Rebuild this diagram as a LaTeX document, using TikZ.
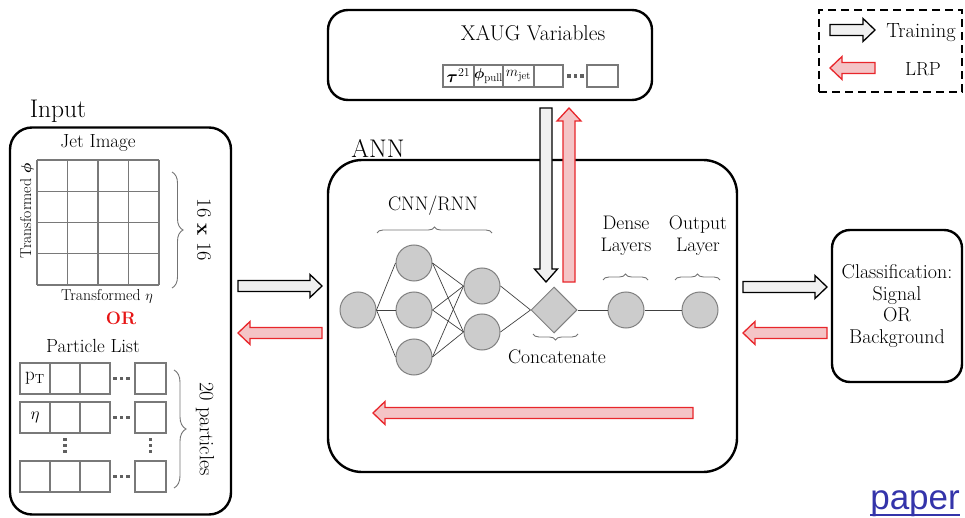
\documentclass[tikz,border=0pt]{standalone}
\usepackage{amsmath}
\usepackage{fontspec}
\newfontfamily\linkfont{Liberation Sans}
\usetikzlibrary{decorations.pathreplacing,shapes.geometric,calc}
\definecolor{lrpfill}{RGB}{244,196,198}
\definecolor{lrpline}{RGB}{232,38,43}
\definecolor{trfill}{RGB}{240,240,240}
\definecolor{linkblue}{RGB}{52,52,170}
\definecolor{orred}{RGB}{230,20,20}
\newcommand\blkR[4]{\draw[#1] (#2,#4-5.5) -- (#3-12,#4-5.5) -- (#3-12,#4-11.5) -- (#3,#4) -- (#3-12,#4+11.5) -- (#3-12,#4+5.5) -- (#2,#4+5.5) -- cycle;}
\newcommand\blkL[4]{\draw[#1] (#2,#4-5.5) -- (#3+12,#4-5.5) -- (#3+12,#4-11.5) -- (#3,#4) -- (#3+12,#4+11.5) -- (#3+12,#4+5.5) -- (#2,#4+5.5) -- cycle;}
\newcommand\blkD[4]{\draw[#1] (#2-6,#3) -- (#2-6,#4-13) -- (#2-11.5,#4-13) -- (#2,#4) -- (#2+11.5,#4-13) -- (#2+6,#4-13) -- (#2+6,#3) -- cycle;}
\newcommand\blkU[4]{\draw[#1] (#2-6,#3) -- (#2-6,#4+13) -- (#2-12,#4+13) -- (#2,#4) -- (#2+12,#4+13) -- (#2+6,#4+13) -- (#2+6,#3) -- cycle;}
\begin{document}
\begin{tikzpicture}[x=1pt,y=-1pt,
  box/.style={draw=black, line width=2.4pt, rounded corners=#1, inner sep=0pt},
  legendbox/.style={draw=black, line width=2.4pt, dash pattern=on 8pt off 5pt, inner sep=0pt},
  lbl/.style={font=\fontsize{19.6}{22}\selectfont, align=center, inner sep=0pt},
  biglbl/.style={font=\fontsize{25.5}{27}\selectfont, inner sep=0pt},
  smalllbl/.style={font=\fontsize{15.75}{17}\selectfont, inner sep=0pt},
  cellline/.style={draw=gray!95!black, line width=1.1pt},
  cellbox/.style={draw=gray!95!black, line width=1.1pt, fill=white},
  neuron/.style={circle, fill=gray!40, draw=gray, line width=1pt, minimum size=36pt, inner sep=0pt},
  concat/.style={diamond, fill=gray!40, draw=gray, line width=1pt, minimum size=46pt, inner sep=0pt},
  conn/.style={draw=black!75, line width=0.7pt},
  curly/.style={decorate, decoration={brace, amplitude=#1}, draw=gray!90!black, line width=0.9pt},
  trarrow/.style={fill=trfill, draw=black, line width=1.3pt, line join=miter},
  lrparrow/.style={fill=lrpfill, draw=lrpline, line width=1.3pt, line join=miter},
  dots/.style={fill=gray!75!black}
]
\useasboundingbox (0,0) rectangle (965,518);

% ---------- boxes ----------
\node[box=22pt, minimum width=221pt, minimum height=387pt] (input) at (120.5,321) {};
\node[box=34pt, minimum width=409pt, minimum height=312pt] (ann) at (532.5,316) {};
\node[box=20pt, minimum width=324pt, minimum height=90pt] (xaug) at (490,55) {};
\node[box=18pt, minimum width=130pt, minimum height=152pt] (cls) at (897,306) {};
\node[legendbox, minimum width=143pt, minimum height=82pt] (legend) at (890.5,51) {};

% ---------- titles ----------
\node[biglbl] (inputlbl) at (58,111) {Input};
\node[biglbl] (annlbl) at (378,148) {ANN};
\node[lbl, font=\fontsize{21.4}{23}\selectfont] (xauglbl) at (533,33) {XAUG Variables};

% ---------- Jet image ----------
\node[lbl, font=\fontsize{19}{21}\selectfont] (jetlbl) at (98,143) {Jet Image};
\foreach \i in {0,...,4} {
  \draw[cellline] (37+30.5*\i,160) -- (37+30.5*\i,285);
  \draw[cellline] (37,160+31.25*\i) -- (159,160+31.25*\i);
}
\coordinate (jbt) at (172,172);
\coordinate (jbb) at (172,288);
\draw[curly=11pt] (jbt) -- (jbb);
\node[lbl, rotate=-90, font=\fontsize{20.5}{22}\selectfont] (sixteen) at (204,230) {16 \textbf{x} 16};
\node[smalllbl, rotate=90] (tphi) at (27,211) {Transformed $\boldsymbol{\phi}$};
\node[smalllbl] (teta) at (107,296) {Transformed $\eta$};
\node[lbl, text=orred, font=\bfseries\fontsize{18}{20}\selectfont] (orlbl) at (121,318) {OR};

% ---------- Particle list ----------
\node[lbl, font=\fontsize{19}{21}\selectfont] (plist) at (93,346) {Particle List};
\foreach \y in {363,402,461} {
  \draw[cellbox] (20,\y) rectangle (50,\y+31);
  \draw[cellbox] (50,\y) rectangle (80,\y+31);
  \draw[cellbox] (80,\y) rectangle (110,\y+31);
  \draw[cellbox] (135,\y) rectangle (166,\y+31);
  \foreach \dx in {115,121.5,128} {
    \fill[dots] (\dx-1.6,\y+15.5-1.6) rectangle (\dx+1.6,\y+15.5+1.6);
  }
}
\foreach \dy in {439.5,445.5,451.5} {
  \fill[dots] (65-1.6,\dy-1.6) rectangle (65+1.6,\dy+1.6);
  \fill[dots] (150.5-1.6,\dy-1.6) rectangle (150.5+1.6,\dy+1.6);
}
\node[lbl, font=\fontsize{19}{21}\selectfont] (pt) at (35,378.5) {$\mathrm{p}_{\mathrm{T}}$};
\node[lbl, font=\fontsize{19}{21}\selectfont] (etacell) at (35,417.5) {$\eta$};
\coordinate (pbt) at (174,370);
\coordinate (pbb) at (174,488);
\draw[curly=12pt] (pbt) -- (pbb);
\node[lbl, rotate=-90, font=\fontsize{20.5}{22}\selectfont] (twenty) at (205,429) {20 particles};

% ---------- XAUG cells ----------
\foreach \a/\b in {443/474,474/503,503/534,534/563,587/618} {
  \draw[cellbox] (\a,65) rectangle (\b,87);
}
\foreach \dx in {569,575.5,582} {
  \fill[dots] (\dx-1.6,76-1.6) rectangle (\dx+1.6,76+1.6);
}
\node[smalllbl, font=\fontsize{17}{18}\selectfont] (tau) at (458.5,76) {$\boldsymbol{\tau}^{21}$};
\node[smalllbl] (phipull) at (488.5,76) {$\boldsymbol{\phi}_{\text{pull}}$};
\node[smalllbl] (mjet) at (518.5,76) {$m_{\text{jet}}$};

% ---------- network ----------
\node[neuron] (i1) at (358,310) {};
\node[neuron] (h1) at (414,263) {};
\node[neuron] (h2) at (414,310) {};
\node[neuron] (h3) at (414,357) {};
\node[neuron] (g1) at (482,286) {};
\node[neuron] (g2) at (482,332) {};
\node[concat] (cc) at (554,310) {};
\node[neuron] (dense) at (626,310) {};
\node[neuron] (outn) at (700,310) {};
\foreach \h in {h1,h2,h3} {
  \draw[conn] (i1.east) -- (\h.west);
  \foreach \g in {g1,g2} { \draw[conn] (\h.east) -- (\g.west); }
}
\foreach \g in {g1,g2} { \draw[conn] (\g.east) -- (cc.west); }
\draw[conn] (cc.east) -- (dense.west);
\draw[conn] (dense.east) -- (outn.west);

\node[lbl] (cnnlbl) at (433,206) {CNN/RNN};
\draw[curly=6pt] (377,233) -- (492,233);
\node[lbl] (denselbl) at (626,236) {Dense\\Layers};
\draw[curly=6pt] (603,280) -- (648,280);
\node[lbl] (outlbl) at (698,236) {Output\\Layer};
\draw[curly=6pt] (675,280) -- (720,280);
\draw[curly=6pt] (578,334) -- (533,334);
\node[lbl] (cclbl) at (557,357) {Concatenate};

% ---------- classification ----------
\node[lbl, font=\fontsize{20}{21.5}\selectfont] (clstext) at (897,306) {Classification:\\Signal\\OR\\Background};

% ---------- legend ----------
\node[lbl, font=\fontsize{20.5}{22}\selectfont] (trainlbl) at (921,33) {Training};
\node[lbl, font=\fontsize{19}{21}\selectfont] (lrplbl) at (923,69) {LRP};

% ---------- block arrows ----------
\blkR{trarrow}{238}{322}{286}
\blkL{lrparrow}{322}{238}{333}
\blkR{trarrow}{743}{827}{287}
\blkL{lrparrow}{827}{743}{333}
\blkL{lrparrow}{693}{373}{413}
\blkD{trarrow}{546}{108}{282}
\blkU{lrparrow}{569}{282}{108}
\blkR{trarrow}{830}{875}{30}
\blkL{lrparrow}{875}{830}{68}

% ---------- link ----------
\node[anchor=base east, font=\linkfont\fontsize{35}{37}\selectfont, text=linkblue, inner sep=0pt] (paper) at (960,509) {paper};
\draw[linkblue, line width=1.7pt] ($(paper.base west)+(0,6)$) -- ($(paper.base east)+(0,6)$);
\end{tikzpicture}
\end{document}
